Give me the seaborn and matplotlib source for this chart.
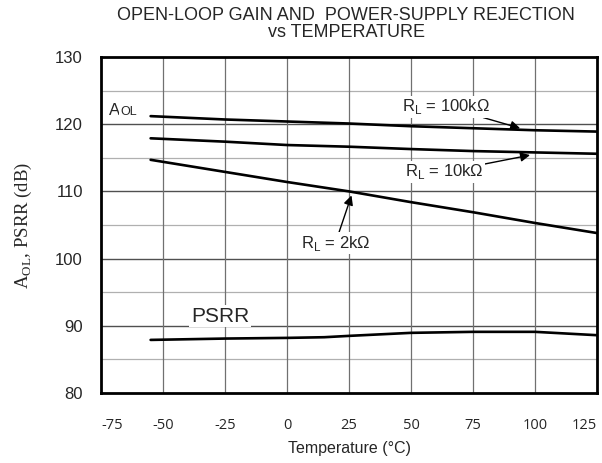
import pandas as pd
import seaborn as sns
import matplotlib.pyplot as plt

# values
temp_aol = [-55, -25, 0, 25, 50, 75, 100, 125]
aol_100k = [121.2, 120.7, 120.4, 120.1, 119.7, 119.4, 119.1, 118.9]
aol_10k = [117.9, 117.4, 116.9, 116.65, 116.3, 116.0, 115.8, 115.6]
aol_2k = [114.7, 112.9, 111.4, 110.0, 108.4, 106.9, 105.3, 103.8]

temp_psrr = [-55, -25, 0, 15, 25, 50, 75, 100, 125]
psrr = [87.9, 88.1, 88.2, 88.3, 88.5, 88.95, 89.1, 89.1, 88.6]

x_ticks = [-75, -50, -25, 0, 25, 50, 75, 100, 125]
y_ticks = [80, 90, 100, 110, 120, 130]

frames = [
    pd.DataFrame({"temp": temp_aol, "db": aol_100k, "curve": "100k"}),
    pd.DataFrame({"temp": temp_aol, "db": aol_10k, "curve": "10k"}),
    pd.DataFrame({"temp": temp_aol, "db": aol_2k, "curve": "2k"}),
    pd.DataFrame({"temp": temp_psrr, "db": psrr, "curve": "psrr"}),
]
df = pd.concat(frames, ignore_index=True)

sns.set_style("white")
plt.rcParams["font.family"] = ["Liberation Sans", "DejaVu Sans"]

fig = plt.figure(figsize=(6.02, 4.63), dpi=100)
ax = fig.add_axes([0.1678, 0.1512, 0.8239, 0.7257])

sns.lineplot(data=df, x="temp", y="db", hue="curve", units="curve", estimator=None,
             palette=["black"] * 4, linewidth=1.9, legend=False, ax=ax, zorder=3)

ax.set_xlim(-75, 125)
ax.set_ylim(80, 130)

# grid: 5 dB lines lighter, 10 dB lines darker
for v in range(85, 130, 10):
    ax.axhline(v, color="#b0b0b0", lw=0.9, zorder=1)
for v in y_ticks[1:-1]:
    ax.axhline(v, color="#505050", lw=1.0, zorder=1)
for v in x_ticks[1:-1]:
    ax.axvline(v, color="#707070", lw=0.9, zorder=1)

for s in ax.spines.values():
    s.set_linewidth(2)
    s.set_color("black")

ax.set_xticks(x_ticks)
ax.set_xticklabels([str(t) for t in x_ticks], fontfamily="Open Sans", fontsize=10.5)
xlabels = ax.get_xticklabels()
xlabels[0].set_ha("left")
xlabels[-1].set_ha("right")
ax.set_yticks(y_ticks)
ax.set_yticklabels([str(t) for t in y_ticks], fontsize=12)
ax.tick_params(axis="both", length=0)
ax.tick_params(axis="x", pad=18)
ax.tick_params(axis="y", pad=13)

ax.set_xlabel("Temperature (°C)", fontsize=11.5, labelpad=6)
ax.set_ylabel(r"A$_{\mathregular{OL}}$, PSRR (dB)", fontsize=13.5,
              fontfamily="Liberation Serif", labelpad=15)

fig.text(0.575, 0.985, "OPEN-LOOP GAIN AND  POWER-SUPPLY REJECTION\nvs TEMPERATURE",
         ha="center", va="top", fontsize=13, linespacing=1.0)

box = dict(facecolor="white", edgecolor="none", pad=1)
arrow = dict(arrowstyle="-|>", color="black", lw=1.0, mutation_scale=14,
             shrinkA=0, shrinkB=0)

ax.text(-71.7, 122.0, "A", fontsize=12, va="center", ha="left", bbox=box, zorder=4)
ax.text(-67.0, 121.85, "OL", fontsize=9, va="center", ha="left", bbox=box, zorder=4)

ax.annotate(r"R$_\mathregular{L}$ = 100kΩ", xy=(94, 119.4), xytext=(64, 122.6),
            fontsize=12, ha="center", va="center", bbox=box, arrowprops=arrow, zorder=4)
ax.annotate(r"R$_\mathregular{L}$ = 10kΩ", xy=(98, 115.4), xytext=(63.5, 112.9),
            fontsize=12, ha="center", va="center", bbox=box, arrowprops=arrow, zorder=4)
ax.annotate(r"R$_\mathregular{L}$ = 2kΩ", xy=(26, 109.4), xytext=(19.5, 102.3),
            fontsize=12, ha="center", va="center", bbox=box, arrowprops=arrow, zorder=4)

ax.text(-27, 91.45, "PSRR", fontsize=15, ha="center", va="center", bbox=box, zorder=4)

fig.savefig("out.png", dpi=100)
